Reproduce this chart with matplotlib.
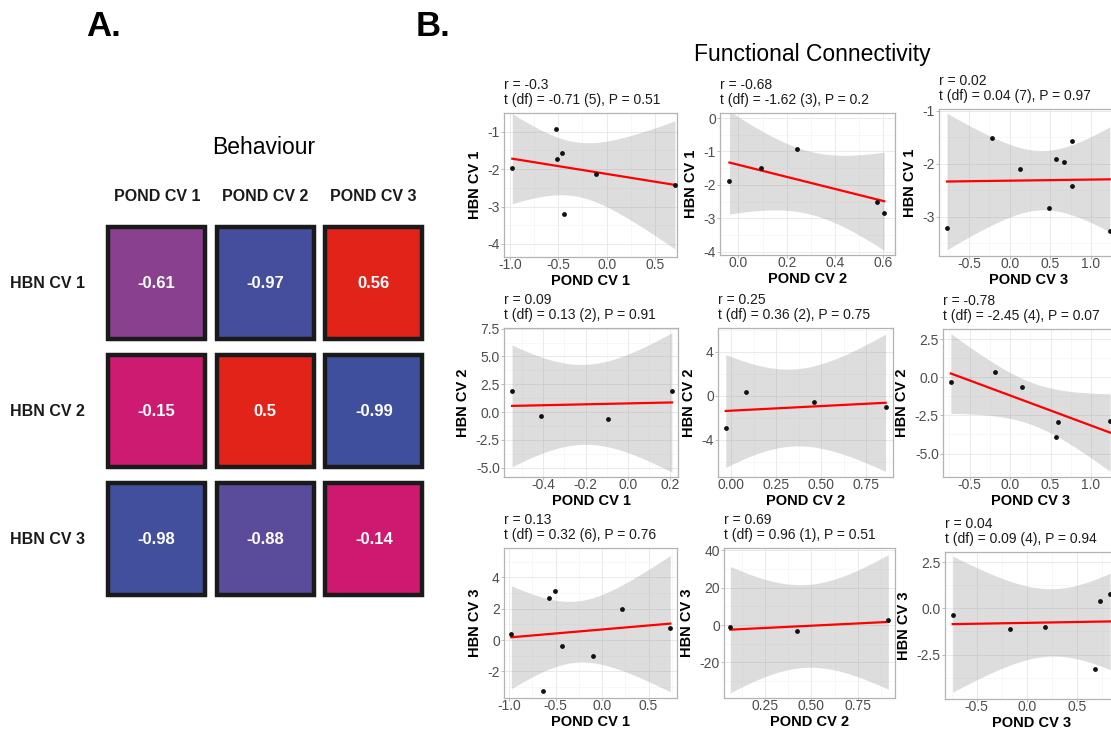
import numpy as np
import matplotlib
matplotlib.use("Agg")
import matplotlib.pyplot as plt
from matplotlib.colors import LinearSegmentedColormap, Normalize
from matplotlib.patches import Rectangle
from matplotlib.ticker import FixedLocator, AutoMinorLocator, FormatStrFormatter

plt.rcParams["font.family"] = ["Liberation Sans", "DejaVu Sans"]

W, H = 1111, 730

# ---------------------------------------------------------------------
# A. behaviour: correlation between HBN and POND canonical variates
# ---------------------------------------------------------------------
pond_labels = ["POND CV 1", "POND CV 2", "POND CV 3"]
hbn_labels = ["HBN CV 1", "HBN CV 2", "HBN CV 3"]
behaviour_r = [[-0.61, -0.97, 0.56],
               [-0.15, 0.5, -0.99],
               [-0.98, -0.88, -0.14]]

# ---------------------------------------------------------------------
# B. functional connectivity scatter (row = HBN CV, col = POND CV)
# ---------------------------------------------------------------------
h1p1_x = [-0.976, -0.528, -0.517, -0.459, -0.441, -0.110, 0.707]
h1p1_y = [-1.96, -0.92, -1.72, -1.58, -3.20, -2.12, -2.43]
h1p2_x = [-0.037, 0.092, 0.244, 0.575, 0.603]
h1p2_y = [-1.90, -1.50, -0.92, -2.50, -2.85]
h1p3_x = [-0.773, -0.214, 0.132, 0.481, 0.575, 0.666, 0.773, 0.773, 1.233]
h1p3_y = [-3.21, -1.51, -2.11, -2.83, -1.91, -1.96, -1.58, -2.43, -3.27]

h2p1_x = [-0.548, -0.411, -0.092, 0.209]
h2p1_y = [1.87, -0.33, -0.66, 1.87]
h2p2_x = [-0.031, 0.083, 0.461, 0.857]
h2p2_y = [-2.92, 0.33, -0.58, -1.03]
h2p3_x = [-0.733, -0.185, 0.152, 0.564, 0.588, 1.235]
h2p3_y = [-0.31, 0.33, -0.66, -3.95, -2.92, -2.87]

h3p1_x = [-0.975, -0.640, -0.572, -0.507, -0.432, -0.094, 0.219, 0.734]
h3p1_y = [0.40, -3.26, 2.66, 3.11, -0.40, -1.04, 1.98, 0.77]
h3p2_x = [0.063, 0.421, 0.914]
h3p2_y = [-1.07, -3.21, 2.68]
h3p3_x = [-0.740, -0.167, 0.180, 0.683, 0.733, 0.833]
h3p3_y = [-0.38, -1.10, -1.03, -3.26, 0.43, 0.79]

fc_r = ["-0.3", "-0.68", "0.02", "0.09", "0.25", "-0.78", "0.13", "0.69", "0.04"]
fc_t = ["-0.71", "-1.62", "0.04", "0.13", "0.36", "-2.45", "0.32", "0.96", "0.09"]
fc_df = [5, 3, 7, 2, 2, 4, 6, 1, 4]
fc_p = ["0.51", "0.2", "0.97", "0.91", "0.75", "0.07", "0.76", "0.51", "0.94"]

# two-sided 95% t quantiles for the lm confidence band
t975 = {1: 12.706, 2: 4.303, 3: 3.182, 4: 2.776, 5: 2.571, 6: 2.447, 7: 2.365}

panel_data = [(h1p1_x, h1p1_y), (h1p2_x, h1p2_y), (h1p3_x, h1p3_y),
              (h2p1_x, h2p1_y), (h2p2_x, h2p2_y), (h2p3_x, h2p3_y),
              (h3p1_x, h3p1_y), (h3p2_x, h3p2_y), (h3p3_x, h3p3_y)]

# pixel boxes (left, top, right, bottom) of each panel
panel_box = [(504, 113, 677, 257), (720, 113, 895, 255), (939, 109, 1118, 256),
             (504, 328, 678, 477), (718, 328, 893, 477), (943, 329, 1118, 477),
             (504, 548, 677, 698), (724, 548, 895, 698), (945, 552, 1118, 699)]
panel_xlim = [(-1.062, 0.728), (-0.076, 0.648), (-0.872, 1.335),
              (-0.586, 0.238), (-0.074, 0.898), (-0.830, 1.333),
              (-1.054, 0.806), (0.029, 0.950), (-0.817, 0.912)]
panel_ylim = [(-4.35, -0.50), (-4.10, 0.15), (-3.74, -0.97),
              (-5.85, 7.56), (-7.36, 6.17), (-6.54, 3.16),
              (-3.70, 5.87), (-39.1, 41.25), (-4.91, 3.06)]
panel_xticks = [[-1, -0.5, 0, 0.5], [0, 0.2, 0.4, 0.6], [-0.5, 0, 0.5, 1.0],
                [-0.4, -0.2, 0, 0.2], [0, 0.25, 0.5, 0.75], [-0.5, 0, 0.5, 1.0],
                [-1, -0.5, 0, 0.5], [0.25, 0.5, 0.75], [-0.5, 0, 0.5]]
panel_yticks = [[-4, -3, -2, -1], [-4, -3, -2, -1, 0], [-3, -2, -1],
                [-5, -2.5, 0, 2.5, 5, 7.5], [-4, 0, 4], [-5, -2.5, 0, 2.5],
                [-2, 0, 2, 4], [-20, 0, 20, 40], [-2.5, 0, 2.5]]
panel_xfmt = ["%.1f", "%.1f", "%.1f", "%.1f", "%.2f", "%.1f", "%.1f", "%.2f", "%.1f"]
panel_yfmt = ["%d", "%d", "%d", "%.1f", "%d", "%.1f", "%d", "%d", "%.1f"]


def add_px_axes(fig, left, top, right, bottom):
    return fig.add_axes([left / W, 1 - bottom / H, (right - left) / W, (bottom - top) / H])


def lm_band(x, y, df):
    x = np.asarray(x, float)
    y = np.asarray(y, float)
    slope, icpt = np.polyfit(x, y, 1)
    xs = np.linspace(x.min(), x.max(), 80)
    fit = icpt + slope * xs
    resid = y - (icpt + slope * x)
    s = np.sqrt((resid ** 2).sum() / df)
    se = s * np.sqrt(1 / len(x) + (xs - x.mean()) ** 2 / ((x - x.mean()) ** 2).sum())
    return xs, fit, fit - t975[df] * se, fit + t975[df] * se


fig = plt.figure(figsize=(W / 100, H / 100), dpi=100)

# ---- panel A ----
cmap = LinearSegmentedColormap.from_list(
    "beh", [(0.0, "#3e4f9d"), (0.06, "#5b4c9a"), (0.2, "#8b3f8e"),
            (0.44, "#d2186f"), (0.75, "#e2231a"), (1.0, "#e2231a")])
norm = Normalize(-1, 1)

axA = add_px_axes(fig, 102.5, 220, 428, 604)
axA.set_xlim(0, 3)
axA.set_ylim(3, 0)
axA.axis("off")
for i in range(3):
    for j in range(3):
        v = behaviour_r[i][j]
        axA.add_patch(Rectangle((j + 0.045, i + 0.045), 0.91, 0.895, facecolor="none",
                                edgecolor="#c8c8c8", lw=0.8, clip_on=False))
        axA.add_patch(Rectangle((j + 0.055, i + 0.055), 0.89, 0.875,
                                facecolor=cmap(norm(v)), edgecolor="#1a1a1a", lw=3.2,
                                clip_on=False))
        axA.text(j + 0.5, i + 0.5, f"{v:g}", ha="center", va="center",
                 color="white", fontsize=12, fontweight="bold")
for j, lab in enumerate(pond_labels):
    axA.text(j + 0.5, -0.18, lab, ha="center", va="center",
             fontsize=11.5, fontweight="bold", color="#1a1a1a")
for i, lab in enumerate(hbn_labels):
    fig.text(85 / W, 1 - (284 + 128 * i) / H, lab, ha="right", va="center",
             fontsize=11.5, fontweight="bold", color="#1a1a1a")
fig.text(263.5 / W, 1 - 148 / H, "Behaviour", ha="center", va="center", fontsize=16.5)
fig.text(104 / W, 1 - 27 / H, "A.", ha="center", va="center", fontsize=25, fontweight="bold")
fig.text(433 / W, 1 - 27 / H, "B.", ha="center", va="center", fontsize=25, fontweight="bold")

# ---- panel B ----
fig.text(812 / W, 1 - 54 / H, "Functional Connectivity", ha="center", va="center",
         fontsize=16.5)

for k in range(9):
    row, col = divmod(k, 3)
    x, y = panel_data[k]
    ax = add_px_axes(fig, *panel_box[k])
    xs, fit, lo, hi = lm_band(x, y, fc_df[k])
    ax.fill_between(xs, lo, hi, color="#999999", alpha=0.33, lw=0, zorder=2)
    ax.plot(xs, fit, color="#ff0000", lw=1.6, zorder=3)
    ax.scatter(x, y, s=12, color="#111111", zorder=4, lw=0)

    ax.set_xlim(*panel_xlim[k])
    ax.set_ylim(*panel_ylim[k])
    ax.xaxis.set_major_locator(FixedLocator(panel_xticks[k]))
    ax.yaxis.set_major_locator(FixedLocator(panel_yticks[k]))
    ax.xaxis.set_major_formatter(FormatStrFormatter(panel_xfmt[k]))
    ax.yaxis.set_major_formatter(FormatStrFormatter(panel_yfmt[k]))
    ax.xaxis.set_minor_locator(AutoMinorLocator(2))
    ax.yaxis.set_minor_locator(AutoMinorLocator(2))
    ax.grid(True, which="major", color="#e6e6e6", lw=0.6, zorder=0)
    ax.grid(True, which="minor", color="#f2f2f2", lw=0.4, zorder=0)
    ax.set_axisbelow(True)
    for sp in ax.spines.values():
        sp.set_color("#b3b3b3")
        sp.set_linewidth(0.9)
    ax.tick_params(which="major", length=2, width=0.6, color="#b3b3b3",
                   labelsize=10, labelcolor="#4d4d4d")
    ax.tick_params(axis="x", which="major", pad=-1.2)
    ax.tick_params(axis="y", which="major", pad=1)
    ax.tick_params(which="minor", length=0)

    ax.set_xlabel(pond_labels[col], fontsize=10.5, fontweight="bold", labelpad=1.5)
    ax.set_ylabel(hbn_labels[row], fontsize=10.5, fontweight="bold", labelpad=4)
    ax.annotate(f"r = {fc_r[k]}\nt (df) = {fc_t[k]} ({fc_df[k]}), P = {fc_p[k]}",
                xy=(0, 1), xycoords="axes fraction", xytext=(0, 4),
                textcoords="offset points", ha="left", va="bottom",
                fontsize=10, linespacing=1.12, color="#1a1a1a")

fig.savefig("out.png", dpi=100)
